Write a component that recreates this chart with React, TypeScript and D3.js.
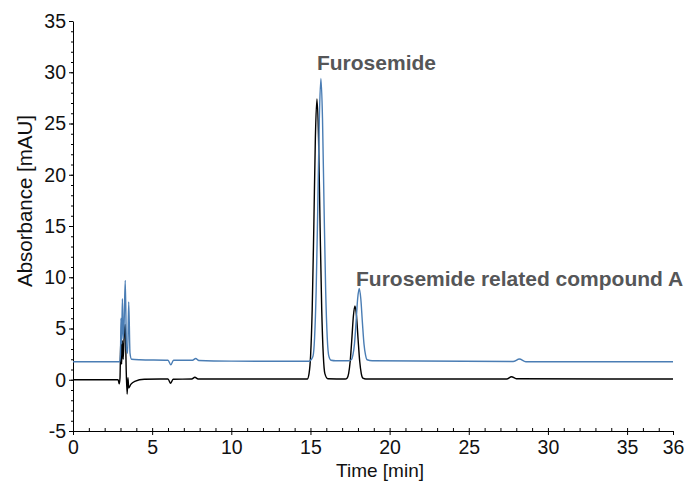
import React, { useEffect, useRef } from "react";
import * as d3 from "d3";

// chromatogram traces, [time (min), absorbance (mAU)]
const blueTrace: [number, number][] = [
  [0, 1.76], [2.95, 1.76], [3.0, 2.5], [3.03, 6.0], [3.07, 3.5], [3.12, 7.9], [3.17, 4.0],
  [3.22, 5.0], [3.3, 9.7], [3.38, 3.0], [3.45, 2.6], [3.52, 7.6], [3.6, 2.6], [3.7, 2.0],
  [4.2, 1.95], [6.0, 1.9], [6.18, 1.45], [6.35, 1.9], [7.55, 1.9], [7.75, 2.08], [7.95, 1.88],
  [10, 1.82], [14.9, 1.8], [15.06, 2.0], [15.16, 2.3], [15.26, 4.1], [15.36, 8.7], [15.46, 16.7],
  [15.56, 25.5], [15.66, 29.4], [15.76, 25.5], [15.86, 16.7], [15.96, 8.7], [16.06, 4.1],
  [16.16, 2.3], [16.3, 1.9], [16.6, 1.85], [17.4, 1.85], [17.58, 1.95], [17.68, 2.4],
  [17.78, 3.5], [17.88, 5.6], [17.98, 7.9], [18.08, 8.9], [18.18, 7.9], [18.28, 5.6],
  [18.38, 3.5], [18.48, 2.4], [18.58, 1.95], [18.9, 1.85], [27.8, 1.78], [28.2, 2.02],
  [28.6, 1.76], [37.9, 1.76],
];

const blackTrace: [number, number][] = [
  [0, 0.0], [2.85, 0.0], [2.92, -0.4], [2.97, 0.2], [3.02, 4.0], [3.07, 1.5], [3.12, 3.8],
  [3.17, 2.0], [3.24, 4.6], [3.3, 5.4], [3.36, 1.0], [3.42, -1.4], [3.47, 0.2], [3.52, -0.8],
  [3.65, -0.45], [3.9, -0.15], [4.5, 0.05], [6.0, 0.07], [6.17, -0.35], [6.32, 0.05],
  [7.5, 0.07], [7.7, 0.25], [7.9, 0.07], [14.8, 0.07], [14.91, 0.6], [15.01, 2.4],
  [15.11, 6.9], [15.21, 14.8], [15.31, 23.6], [15.41, 27.4], [15.51, 23.6], [15.61, 14.8],
  [15.71, 6.9], [15.81, 2.4], [15.91, 0.6], [16.1, 0.1], [17.2, 0.07], [17.31, 0.15],
  [17.41, 0.6], [17.51, 1.8], [17.61, 3.9], [17.71, 6.2], [17.81, 7.2], [17.91, 6.2],
  [18.01, 3.9], [18.11, 1.8], [18.21, 0.6], [18.31, 0.15], [18.5, 0.07], [27.4, 0.07],
  [27.7, 0.3], [28.0, 0.1], [37.9, 0.07],
];

const xTickValues = [0, 5, 10, 15, 20, 25, 30, 35, 37.9];
const xTickLabels = ["0", "5", "10", "15", "20", "25", "30", "35", "36"];
const yTickValues = [-5, 0, 5, 10, 15, 20, 25, 30, 35];

const peakNames = ["Furosemide", "Furosemide related compound A"];
const peakLabelTime = [15.41, 17.88];
const peakLabelAbs = [30.2, 9.15];

const W = 688, H = 483;
const FONT = "'Liberation Sans', Arial, Helvetica, sans-serif";

export default function App() {
  const ref = useRef<SVGSVGElement>(null);

  useEffect(() => {
    const svg = d3.select(ref.current);
    svg.selectAll("*").remove();

    const x = d3.scaleLinear().domain([0, 37.9]).range([73, 673]);
    const y = d3.scaleLinear().domain([-5, 35]).range([431, 21]);

    // minor ticks
    svg.append("g")
      .attr("transform", "translate(0,431)")
      .call(d3.axisBottom(x).tickValues(d3.range(1, 38)).tickSize(-3).tickFormat(() => "").tickSizeOuter(0))
      .call(g => g.select(".domain").remove());
    svg.append("g")
      .attr("transform", "translate(73,0)")
      .call(d3.axisLeft(y).tickValues(d3.range(-4, 35)).tickSize(2).tickFormat(() => "").tickSizeOuter(0))
      .call(g => g.select(".domain").remove());

    const xAxis = svg.append("g")
      .attr("transform", "translate(0,431)")
      .call(d3.axisBottom(x).tickValues(xTickValues).tickSize(4).tickPadding(5).tickSizeOuter(0)
        .tickFormat((d, i) => xTickLabels[i]));
    const yAxis = svg.append("g")
      .attr("transform", "translate(73,0)")
      .call(d3.axisLeft(y).tickValues(yTickValues).tickSize(4).tickPadding(3).tickSizeOuter(0)
        .tickFormat(d => String(d)));

    [xAxis, yAxis].forEach(g => {
      g.selectAll("text").attr("font-family", FONT).attr("font-size", 19.5).attr("fill", "#111");
      g.selectAll("line").attr("stroke", "#000");
      g.select(".domain").attr("stroke", "#000");
    });

    const line = d3.line<[number, number]>()
      .x(d => x(d[0]))
      .y(d => y(d[1]))
      .curve(d3.curveMonotoneX);

    svg.append("path").datum(blackTrace)
      .attr("fill", "none").attr("stroke", "#000").attr("stroke-width", 1.4)
      .attr("d", line);
    svg.append("path").datum(blueTrace)
      .attr("fill", "none").attr("stroke", "#4a7db4").attr("stroke-width", 1.4)
      .attr("d", line);

    peakNames.forEach((name, i) => {
      svg.append("text")
        .attr("x", x(peakLabelTime[i]))
        .attr("y", y(peakLabelAbs[i]))
        .attr("font-family", FONT).attr("font-size", 21).attr("font-weight", "bold")
        .attr("fill", "#555658")
        .text(name);
    });

    svg.append("text")
      .attr("x", 380).attr("y", 477)
      .attr("text-anchor", "middle")
      .attr("font-family", FONT).attr("font-size", 19).attr("fill", "#111")
      .text("Time [min]");
    svg.append("text")
      .attr("transform", "translate(32,201) rotate(-90)")
      .attr("text-anchor", "middle")
      .attr("font-family", FONT).attr("font-size", 20.5).attr("fill", "#111")
      .text("Absorbance [mAU]");
  }, []);

  return (
    <svg ref={ref} width={W} height={H}
      style={{ position: "absolute", left: 0, top: 0, background: "#fff" }} />
  );
}
